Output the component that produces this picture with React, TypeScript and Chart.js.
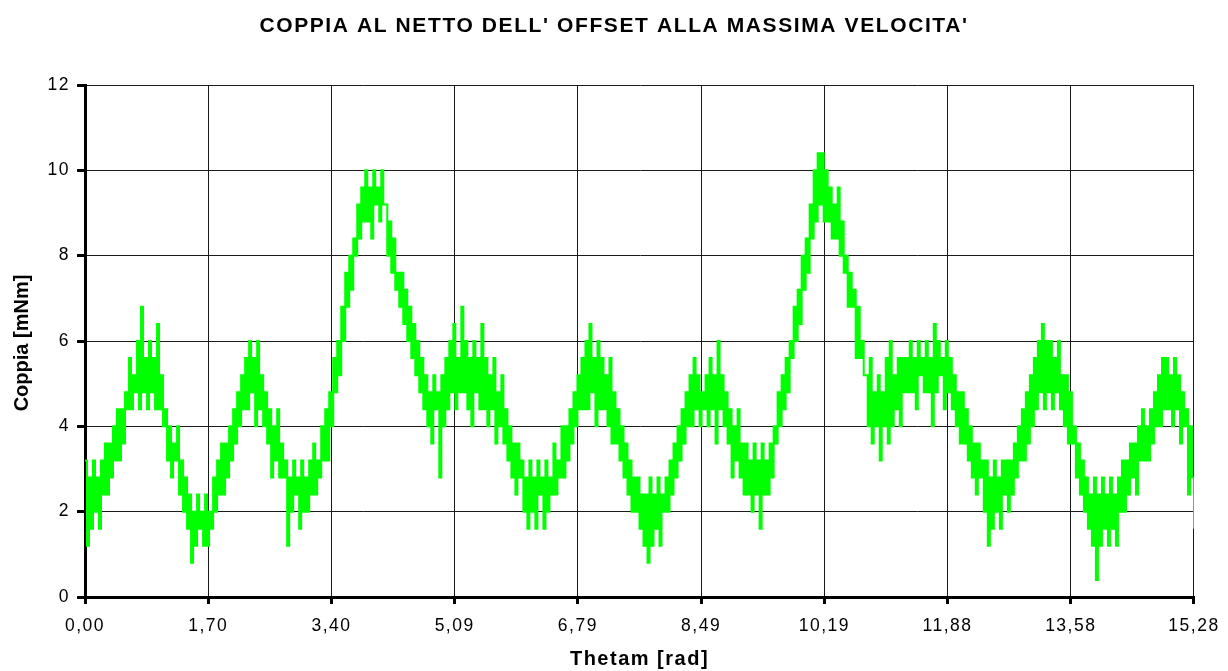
import React, { useEffect, useRef } from "react";
import { Chart, registerables } from "chart.js";

Chart.register(...registerables);

const TITLE = "COPPIA AL NETTO DELL' OFFSET ALLA MASSIMA VELOCITA'";
const X_TITLE = "Thetam [rad]";
const Y_TITLE = "Coppia [mNm]";

const THETA_MAX = 15.28;
const xTickLabels = ["0,00", "1,70", "3,40", "5,09", "6,79", "8,49", "10,19", "11,88", "13,58", "15,28"];
const yTickValues = [0, 2, 4, 6, 8, 10, 12];

// Coppia [mNm] samples (quantised in 0.4 steps)
const coppia1 = [
  3.2, 1.2, 2.8, 1.6, 3.2, 2.0, 2.8, 1.6, 3.2, 2.4,
  3.6, 2.4, 3.6, 2.8, 4.0, 3.2, 4.4, 3.2, 4.4, 3.6,
  4.8, 4.4, 5.6, 4.4, 5.2, 4.8, 6.0, 4.4, 6.8, 4.8,
  5.6, 4.4, 6.0, 4.8, 5.6, 4.4, 6.4, 4.4, 5.2, 4.0,
  4.4, 3.2, 4.0, 2.8, 3.6, 3.2, 4.0, 2.4, 3.2, 2.0,
  2.8, 1.6, 2.4, 0.8, 2.0, 1.2, 2.4, 1.6, 2.0, 1.2,
  2.4, 1.2, 2.0, 1.6, 2.8, 2.0, 3.2, 2.4, 3.6, 2.4,
  3.6, 2.8, 4.0, 3.2, 4.4, 3.6, 4.8, 4.0, 5.2, 4.4,
  5.6, 4.4, 6.0, 4.8, 5.6, 4.0, 6.0, 4.4, 5.2, 4.0,
  4.8, 3.6, 4.4, 2.8, 4.0, 3.2, 4.4, 2.8, 3.6, 2.8,
  3.2, 1.2, 2.8, 2.0, 3.2, 2.4, 2.8, 1.6, 3.2, 2.0,
  2.8, 2.0, 3.2, 2.4, 3.6, 2.4, 3.2, 2.8, 4.0, 3.2,
  4.4, 3.2, 4.8, 4.0, 5.6, 4.8, 6.0, 5.2, 6.8, 6.0,
  7.6, 6.8, 8.0, 7.2, 8.4, 8.0, 9.2, 8.4, 9.6, 8.8,
];
const coppia2 = [
  10.0, 8.8, 9.6, 8.4, 10.0, 9.2, 9.6, 8.8, 10.0, 9.2,
  9.2, 8.0, 8.8, 7.6, 8.4, 7.2, 7.6, 6.8, 7.6, 6.4,
  7.2, 6.0, 6.8, 5.6, 6.4, 5.2, 6.0, 4.8, 5.6, 4.4,
  5.2, 4.0, 4.8, 3.6, 5.2, 4.4, 4.8, 2.8, 5.2, 4.0,
  5.6, 4.4, 6.0, 4.8, 6.4, 4.4, 5.6, 4.8, 6.8, 4.8,
  6.0, 4.4, 5.6, 4.0, 6.0, 4.8, 5.6, 4.4, 6.4, 4.4,
  5.6, 4.0, 5.2, 4.4, 5.6, 3.6, 4.8, 4.0, 5.2, 3.6,
  4.4, 3.2, 4.0, 2.8, 3.6, 2.4, 3.6, 2.8, 3.2, 2.0,
  2.8, 1.6, 3.2, 2.0, 2.8, 1.6, 3.2, 2.4, 2.8, 1.6,
  3.2, 2.0, 2.8, 2.4, 3.6, 2.4, 3.2, 2.8, 4.0, 2.8,
  4.0, 3.2, 4.4, 3.6, 4.8, 4.0, 5.2, 4.4, 5.6, 4.4,
  6.0, 4.4, 6.4, 4.8, 5.6, 4.0, 6.0, 4.4, 5.6, 4.4,
  5.2, 4.0, 5.6, 3.6, 4.8, 3.6, 4.4, 3.2, 4.0, 2.8,
  3.6, 2.4, 3.2, 2.0, 2.8, 2.0, 2.8, 1.6, 2.4, 1.2,
];
const coppia3 = [
  2.4, 0.8, 2.8, 1.2, 2.4, 1.6, 2.8, 1.2, 2.4, 2.0,
  2.8, 2.0, 3.2, 2.4, 3.6, 2.8, 4.0, 3.2, 4.4, 3.6,
  4.8, 4.0, 5.2, 4.0, 5.6, 4.4, 5.2, 4.0, 4.8, 4.4,
  5.2, 4.0, 5.6, 4.4, 5.2, 3.6, 6.0, 4.4, 5.2, 4.0,
  4.8, 3.6, 4.4, 2.8, 4.0, 3.2, 4.4, 2.8, 3.6, 2.4,
  3.6, 2.4, 3.2, 2.0, 3.6, 2.4, 3.2, 1.6, 3.6, 2.4,
  3.2, 2.4, 3.6, 2.8, 4.0, 3.6, 4.8, 4.0, 5.2, 4.4,
  5.6, 4.8, 6.0, 5.6, 6.8, 6.0, 7.2, 6.4, 8.0, 7.2,
  8.4, 7.6, 9.2, 8.4, 10.0, 8.8, 10.4, 9.2, 10.4, 8.8,
  10.0, 8.8, 9.6, 8.4, 9.2, 8.4, 9.6, 8.0, 8.8, 7.6,
  8.0, 6.8, 7.6, 6.8, 7.2, 5.6, 6.8, 5.6, 6.0, 5.2,
  5.2, 4.0, 5.6, 3.6, 4.8, 4.0, 5.2, 3.2, 4.8, 4.0,
  5.6, 3.6, 6.0, 4.0, 5.2, 4.4, 5.6, 4.0, 5.6, 4.8,
  5.6, 4.8, 6.0, 4.8, 5.6, 4.4, 6.0, 5.2, 5.6, 4.8,
];
const coppia4 = [
  6.0, 4.8, 5.6, 4.0, 6.4, 4.8, 6.0, 5.2, 5.6, 4.4,
  6.0, 4.8, 5.6, 4.4, 5.2, 4.0, 4.8, 3.6, 4.8, 3.6,
  4.4, 3.2, 4.0, 2.8, 3.6, 2.4, 3.6, 2.8, 3.2, 2.0,
  3.2, 1.2, 2.8, 1.6, 3.2, 2.0, 2.8, 1.6, 3.2, 2.4,
  3.2, 2.0, 3.2, 2.4, 3.6, 2.8, 4.0, 3.2, 4.4, 3.2,
  4.8, 3.6, 5.2, 4.0, 5.6, 4.4, 6.0, 4.8, 6.4, 4.4,
  6.0, 4.8, 6.0, 4.4, 5.6, 4.8, 6.0, 4.4, 5.2, 4.0,
  5.2, 3.6, 4.8, 3.6, 4.0, 2.8, 3.6, 2.4, 3.2, 2.0,
  2.8, 1.6, 2.4, 1.2, 2.8, 0.4, 2.4, 1.2, 2.8, 1.6,
  2.4, 1.2, 2.8, 1.6, 2.4, 1.2, 2.8, 2.0, 3.2, 2.0,
  3.2, 2.4, 3.6, 2.8, 3.6, 2.4, 4.0, 3.2, 4.4, 3.2,
  4.0, 3.2, 4.4, 3.6, 4.8, 4.0, 5.2, 4.0, 5.6, 4.4,
  5.6, 4.4, 5.2, 4.0, 5.6, 4.4, 5.2, 3.6, 4.8, 4.0,
  4.4, 2.4, 4.0, 2.8, 1.6,
];

const coppia = [...coppia1, ...coppia2, ...coppia3, ...coppia4];
const thetaStep = THETA_MAX / (coppia.length - 1);

const FONT = "'Liberation Sans', Arial, Helvetica, sans-serif";

const textPlugin = {
  id: "excelText",
  beforeDraw(chart: any) {
    try { chart.ctx.letterSpacing = "1.5px"; } catch (e) {}
  },
  afterDraw(chart: any) {
    const ctx = chart.ctx;
    const area = chart.chartArea;
    ctx.save();
    ctx.fillStyle = "#000";
    ctx.font = `bold 21px ${FONT}`;
    try { ctx.letterSpacing = "1.6px"; } catch (e) {}
    ctx.textAlign = "center";
    ctx.textBaseline = "alphabetic";
    ctx.fillText(TITLE, 614, 32);

    try { ctx.letterSpacing = "0px"; } catch (e) {}
    ctx.font = `bold 20px ${FONT}`;
    ctx.translate(22, (area.top + area.bottom) / 2 + 2);
    ctx.rotate(-Math.PI / 2);
    ctx.textBaseline = "middle";
    ctx.fillText(Y_TITLE, 0, 0);
    ctx.restore();
    try { ctx.letterSpacing = "0px"; } catch (e) {}
  },
};

export default function App() {
  const ref = useRef<HTMLCanvasElement | null>(null);
  useEffect(() => {
    const canvas = ref.current;
    if (!canvas) return;
    const chart = new Chart(canvas, {
      type: "line",
      data: {
        datasets: [
          {
            label: "Coppia",
            data: coppia.map((v, i) => ({ x: i * thetaStep, y: v })),
            borderColor: "#00FF00",
            borderWidth: 2,
            pointRadius: 0,
            stepped: true,
            fill: false,
          },
        ],
      },
      options: {
        responsive: false,
        animation: false,
        events: [],
        layout: { padding: { top: 85, right: 34, bottom: 0, left: 0 } },
        plugins: {
          legend: { display: false },
          title: { display: false },
          tooltip: { enabled: false },
        },
        scales: {
          x: {
            type: "linear",
            min: 0,
            max: THETA_MAX,
            afterFit: (s: any) => { s.height = 74; },
            afterBuildTicks: (s: any) => {
              s.ticks = xTickLabels.map((_, i) => ({ value: (i * THETA_MAX) / (xTickLabels.length - 1) }));
            },
            ticks: {
              autoSkip: false,
              maxRotation: 0,
              padding: 12,
              color: "#000",
              font: { family: FONT, size: 17.5 },
              callback: (_v: any, i: number) => xTickLabels[i],
            },
            grid: { color: "#1a1a1a", lineWidth: 1, tickLength: 7, tickWidth: 3, tickColor: "#000" },
            border: { color: "#000", width: 3 },
            title: {
              display: true,
              text: X_TITLE,
              color: "#000",
              font: { family: FONT, size: 20, weight: "bold" },
              padding: { top: 0, bottom: 0 },
            },
          },
          y: {
            min: 0,
            max: 12,
            afterFit: (s: any) => { s.width = 85; },
            afterBuildTicks: (s: any) => { s.ticks = yTickValues.map((v) => ({ value: v })); },
            ticks: {
              padding: 7,
              color: "#000",
              font: { family: FONT, size: 17.5 },
            },
            grid: { color: "#1a1a1a", lineWidth: 1, tickLength: 8, tickWidth: 3, tickColor: "#000" },
            border: { color: "#000", width: 3 },
            title: { display: false },
          },
        },
      },
      plugins: [textPlugin],
    });
    return () => chart.destroy();
  }, []);
  return (
    <div style={{ position: "absolute", left: 0, top: 0, width: 1228, height: 671, background: "#fff" }}>
      <canvas ref={ref} width={1228} height={671} style={{ display: "block" }} />
    </div>
  );
}
